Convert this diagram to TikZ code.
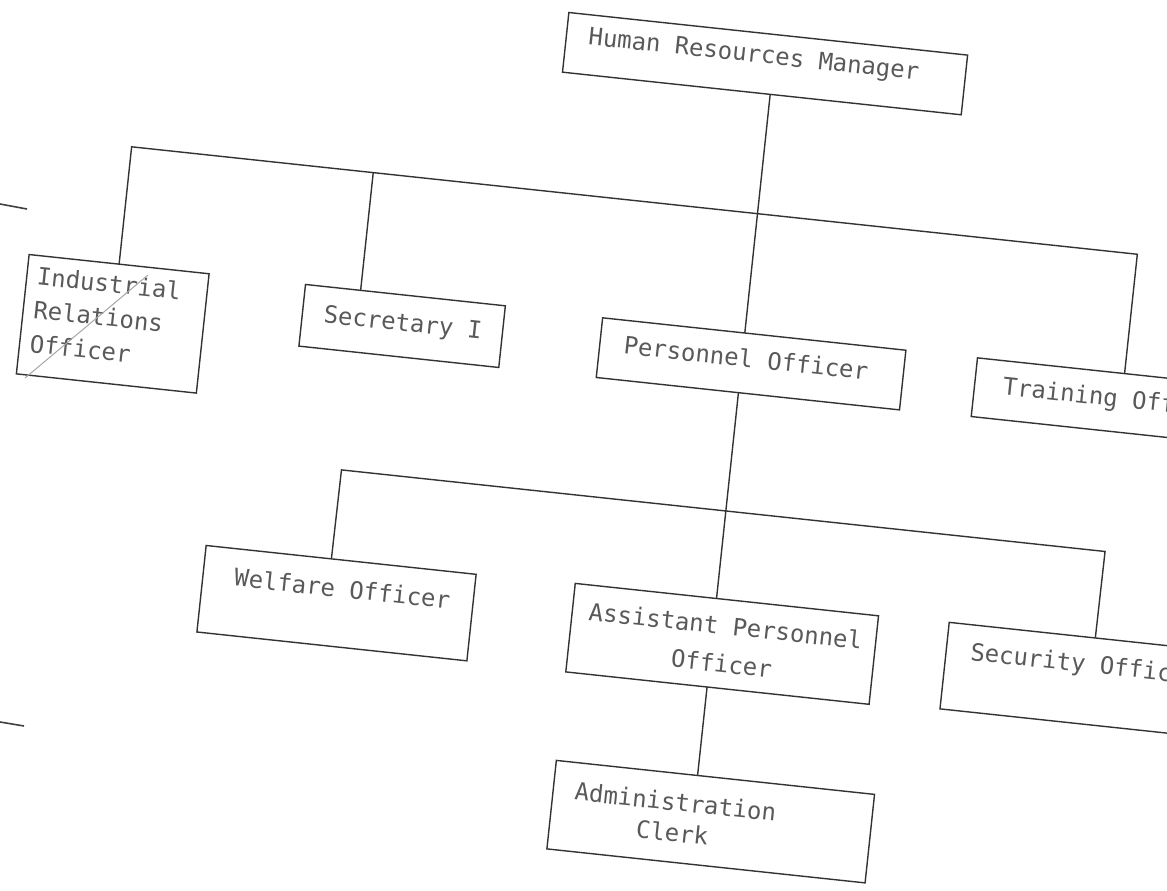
\documentclass[tikz,border=0pt]{standalone}
\usepackage{fontspec}
\setmonofont{DejaVu Sans Mono}
\usetikzlibrary{calc}
\tikzset{
  post/.style={draw=black!80, line width=0.7pt, inner sep=0pt, outer sep=0pt},
  title/.style={inner sep=0pt, text=black!65, text height=8.8pt, text depth=0pt,
    font=\ttfamily\fontsize{12}{16.5}\selectfont},
  titles/.style={inner sep=0pt, text=black!65, font=\ttfamily\fontsize{12}{16.5}\selectfont},
  link/.style={draw=black!80, line width=0.7pt},
}

\begin{document}
\begin{tikzpicture}[x=0.5pt, y=-0.5pt]

    \useasboundingbox (0,0) rectangle (1167,890);
    \clip (0,0) rectangle (1167,890);

    \draw[black!75, line width=0.8pt] (0,204) -- (27,209);
    \draw[black!75, line width=0.8pt] (0,722) -- (24,726);

    \begin{scope}[rotate=-6.1, transform shape]

    \coordinate (b1w) at (146.5,132);
    \coordinate (b1s) at (389.5,132);
    \coordinate (b1e) at (1158,132);
    \coordinate (b2w) at (389.5,431);
    \coordinate (b2e) at (1157.5,431);

    \node[post, minimum width=200.5pt, minimum height=30pt]   (hrm)   at (767.5,-18) {};
    \node[post, minimum width=90.5pt,  minimum height=60pt]   (iro)   at (146.5,310) {};
    \node[post, minimum width=100.5pt, minimum height=31pt]   (sec)   at (434.5,281.4) {};
    \node[post, minimum width=152.5pt, minimum height=30pt]   (pers)  at (785.5,282) {};
    \node[post, minimum width=148pt,   minimum height=29.5pt] (train) at (1158,281.5) {};
    \node[post, minimum width=135.75pt,minimum height=43.5pt] (welf)  at (398.7,564) {};
    \node[post, minimum width=152.5pt, minimum height=44.5pt] (apo)   at (786.5,563.5) {};
    \node[post, minimum width=147pt,   minimum height=43.5pt] (secu)  at (1157,561.5) {};
    \node[post, minimum width=160pt,   minimum height=44.5pt] (clerk) at (794,741.5) {};

    \node[title] (hrmt)   at (755.5,-27)  {Human Resources Manager};
    \node[titles, anchor=west, align=left] (irot) at (66,304)
        {Industrial\\[0.5pt]Relations\\[0.5pt]Officer};
    \node[title] (sect)   at (435,277.6)  {Secretary I};
    \node[title] (perst)  at (779.9,276.9) {Personnel Officer};
    \node[title] (traint) at (1154,277)   {Training Officer};
    \node[title] (welft)  at (403,549)    {Welfare Officer};
    \node[titles, align=center] (apot) at (788,564)
        {Assistant Personnel\\[2.5pt]Officer};
    \node[title] (secut)  at (1150,544.5) {Security Officer};
    \node[titles, align=center] (clerkt) at (757,741)
        {Administration\\[-1pt]Clerk};

    \draw[link] ($(hrm.south west)!0.521!(hrm.south east)$)
        -- ($(pers.north west)!0.469!(pers.north east)$);
    \draw[link] (iro.north) -- (b1w) -- (b1e) -- (train.north);
    \draw[link] (b1s) -- ($(sec.north west)!0.276!(sec.north east)$);
    \draw[link] ($(pers.south west)!0.469!(pers.south east)$)
        -- ($(apo.north west)!0.466!(apo.north east)$);
    \draw[link] ($(welf.north west)!0.464!(welf.north east)$)
        -- (b2w) -- (b2e) -- (secu.north);
    \draw[link] ($(apo.south west)!0.466!(apo.south east)$)
        -- ($(clerk.north west)!0.444!(clerk.north east)$);

    \end{scope}

    \draw[black!35, line width=0.5pt] (25,378) -- (148,275);

\end{tikzpicture}
\end{document}
